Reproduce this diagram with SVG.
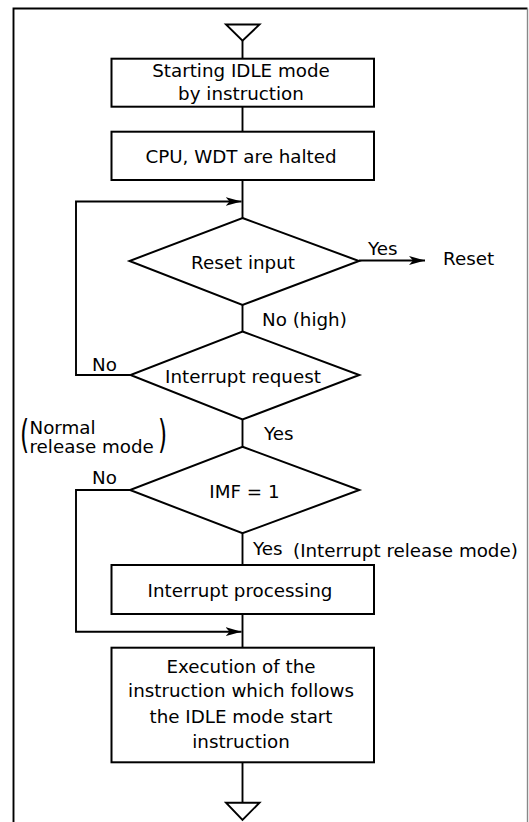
<svg xmlns="http://www.w3.org/2000/svg" width="529" height="822" viewBox="0 0 529 822">
<style>
.sh{fill:#fff;stroke:#000;stroke-width:2}
.ln{fill:none;stroke:#000;stroke-width:1.9}
.t{font-family:"DejaVu Sans","Liberation Sans",sans-serif;font-size:18.3px;fill:#000}
.c{text-anchor:middle}
</style>
<defs>
<marker id="ah" markerUnits="userSpaceOnUse" markerWidth="18" markerHeight="10" refX="16" refY="4.5" orient="auto">
<path d="M0,0 L16,4.5 L0,9 L4,4.5 z" fill="#000"/>
</marker>
</defs>
<rect width="529" height="822" fill="#fff"/>
<g id="frame">
<path d="M13.5,830 V8.5 H527.5" fill="none" stroke="#000" stroke-width="1.9"/>
<path d="M527.5,8.5 V830" fill="none" stroke="#888" stroke-width="1.4"/>
</g>
<g id="connectors">
<polygon class="ln" points="226,24.5 259.5,24.5 242.5,40.7"/>
<line class="ln" x1="242.5" y1="40.7" x2="242.5" y2="58.7"/>
<line class="ln" x1="242.5" y1="106.7" x2="242.5" y2="131.7"/>
<line class="ln" x1="242.5" y1="180" x2="242.5" y2="218"/>
<path class="ln" d="M130,375 H76 V201.5 H241.5" marker-end="url(#ah)"/>
<line class="ln" x1="359" y1="260.5" x2="425" y2="260.5" marker-end="url(#ah)"/>
<line class="ln" x1="242.5" y1="305" x2="242.5" y2="331.5"/>
<line class="ln" x1="242.5" y1="419.5" x2="242.5" y2="446.7"/>
<line class="ln" x1="242.5" y1="533.3" x2="242.5" y2="565"/>
<line class="ln" x1="242.5" y1="614" x2="242.5" y2="647.7"/>
<path class="ln" d="M130,490 H76 V631.7 H241.5" marker-end="url(#ah)"/>
<line class="ln" x1="242.5" y1="762.3" x2="242.5" y2="802.7"/>
<polygon class="ln" points="226,802.7 259.5,802.7 242.5,820"/>
</g>
<g id="start">
<rect class="sh" x="111.5" y="58.7" width="262.5" height="48"/>
<text class="t c" x="241" y="76.7">Starting IDLE mode</text>
<text class="t c" x="241" y="100">by instruction</text>
</g>
<g id="halt">
<rect class="sh" x="111.5" y="131.7" width="262.5" height="48.3"/>
<text class="t c" x="241" y="163.3">CPU, WDT are halted</text>
</g>
<g id="reset-input">
<polygon class="sh" points="242.5,218 359,261 242.5,305 129.5,261"/>
<text class="t c" x="243" y="269">Reset input</text>
<text class="t" x="368" y="255">Yes</text>
<text class="t" x="443" y="265">Reset</text>
<text class="t" x="262" y="326">No (high)</text>
</g>
<g id="interrupt-request">
<polygon class="sh" points="242.5,331.5 359.3,375 242.5,419.5 130.5,375"/>
<text class="t c" x="243" y="383">Interrupt request</text>
<text class="t" x="92" y="371">No</text>
<text class="t" x="264" y="440">Yes</text>
</g>
<g id="normal-release-note">
<text class="t" transform="translate(20,447.6) scale(0.6,1)" style="font-size:39px">(</text>
<text class="t" x="29.5" y="434">Normal</text>
<text class="t" x="29.5" y="453">release mode</text>
<text class="t" transform="translate(158,447.6) scale(0.6,1)" style="font-size:39px">)</text>
</g>
<g id="imf">
<polygon class="sh" points="242.5,446.7 359.3,490 242.5,533.3 130,490"/>
<text class="t c" x="244.5" y="498">IMF = 1</text>
<text class="t" x="92" y="484">No</text>
<text class="t" x="253" y="555">Yes</text>
<text class="t" x="293" y="556.5">(Interrupt release mode)</text>
</g>
<g id="interrupt-processing">
<rect class="sh" x="111.5" y="565" width="262.5" height="49"/>
<text class="t c" x="240" y="597">Interrupt processing</text>
</g>
<g id="execution">
<rect class="sh" x="111.5" y="647.7" width="262.5" height="114.6"/>
<text class="t c" x="241" y="673.3">Execution of the</text>
<text class="t c" x="241" y="697.3">instruction which follows</text>
<text class="t c" x="241" y="722.7">the IDLE mode start</text>
<text class="t c" x="241" y="747.7">instruction</text>
</g>
</svg>
